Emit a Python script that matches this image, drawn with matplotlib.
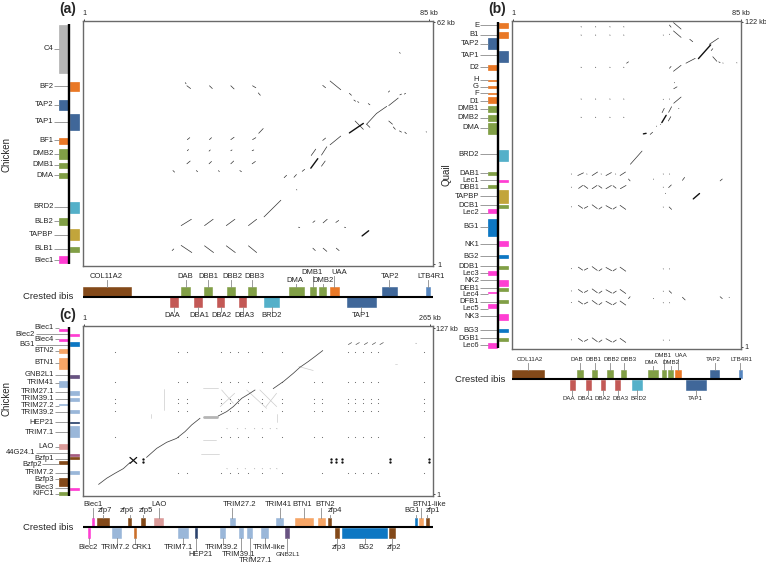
import matplotlib
matplotlib.use("Agg")
import matplotlib.pyplot as plt
from matplotlib.collections import LineCollection
from matplotlib.patches import Rectangle

plt.rcParams['font.family'] = ['Liberation Sans', 'DejaVu Sans']
W, H = 766, 567

COL = dict(gray='#b0b0b0', org='#e8711a', blu='#355f94', grn='#7a9a3c', teal='#4bacc6',
           mus='#bfa030', mag='#ff33d0', brn='#7c3f0c', red='#c0504d', bbl='#0070c0',
           lbl='#95b3d7', pch='#f6a05e', pnk='#d99694', pur='#604a7b', nav='#1f3864',
           mid='#4f81bd', dor='#c8671e', mpk='#a0527a')

# ---------- crested ibis MHC genes (kb), shared by panels a and b ----------
mhc_names = ['COL11A2', 'DAB', 'DBB1', 'DBB2', 'DBB3', 'DMA', 'DMB1', 'DMB2', 'UAA', 'TAP2', 'LTB4R1',
             'DAA', 'DBA1', 'DBA2', 'DBA3', 'BRD2', 'TAP1']
mhc_start = [0.8, 24.6, 30.1, 35.8, 41.0, 50.9, 56.0, 58.3, 60.9, 73.6, 84.3, 21.9, 27.8, 33.3, 38.7, 44.9, 64.9]
mhc_end = [12.3, 26.8, 32.1, 37.8, 42.8, 54.5, 57.4, 59.9, 63.0, 77.1, 85.3, 23.8, 29.7, 35.1, 40.5, 48.5, 72.2]
mhc_strand = [1] * 11 + [-1] * 6
mhc_color = ['brn', 'grn', 'grn', 'grn', 'grn', 'grn', 'grn', 'grn', 'org', 'blu', 'mid',
             'red', 'red', 'red', 'red', 'teal', 'blu']
mhc_tier = [0, 0, 0, 0, 0, 2, 1, 2, 1, 0, 0, 3, 3, 3, 3, 3, 3]
a_mhc_labelx = [6.3, 25.5, 31.3, 37.1, 42.5, 52.2, 56.4, 59.2, 63.2, 75.5, 85.5, 22.5, 29.0, 34.5, 40.0, 46.7, 68.5]
b_mhc_labelx = [7.3, 24.5, 30.8, 37.4, 43.8, 52.2, 56.5, 59.2, 63.0, 75.0, 85.3, 21.7, 27.7, 34.1, 40.7, 47.4, 68.2]

# ---------- panel a: chicken genes (kb) ----------
a_names = ['C4', 'BF2', 'TAP2', 'TAP1', 'BF1', 'DMB2', 'DMB1', 'DMA', 'BRD2', 'BLB2', 'TAPBP', 'BLB1', 'Blec1']
a_top = [61.3, 47.0, 42.5, 38.9, 32.9, 30.0, 26.5, 24.0, 16.7, 12.5, 9.9, 5.4, 3.1]
a_bot = [49.2, 44.8, 39.8, 34.9, 31.3, 27.6, 25.3, 22.7, 13.9, 10.8, 7.1, 4.0, 1.3]
a_side = [-1, 1, -1, 1, -1, -1, -1, -1, 1, -1, 1, 1, -1]
a_color = ['gray', 'org', 'blu', 'blu', 'org', 'grn', 'grn', 'grn', 'teal', 'grn', 'mus', 'grn', 'mag']
a_label = [55.4, 45.9, 41.2, 36.9, 32.2, 28.9, 26.1, 23.4, 15.5, 11.8, 8.4, 4.8, 2.0]

a_hits = [(77.8,54.4,78.0,54.2),(25.6,46.8,25.8,46.5),(26.0,46.0,26.9,45.3),(31.5,46.0,32.2,45.3),
 (36.7,46.0,37.5,45.2),(42.0,46.0,42.8,45.5),(43.4,44.2,43.9,43.6),(59.1,46.1,59.8,45.5),(60.9,47.2,63.5,45.0),
 (65.6,44.1,66.1,43.6),(66.7,42.4,67.1,42.1),(67.6,42.0,67.9,41.8),(70.2,41.5,70.6,41.2),(75.2,41.0,77.5,42.9),
 (75.1,44.4,75.4,44.7),(77.9,43.7,78.3,43.9),(79.0,43.9,79.3,44.1),(69.8,36.3,72.2,39.0),(72.2,39.0,74.7,40.8),
 (67.0,37.1,69.0,35.0),(69.8,36.3,70.6,35.5),(75.2,37.1,76.1,36.3),(76.3,35.6,76.8,35.0),(77.8,34.6,78.3,34.3),
 (79.1,34.3,79.5,33.9),(84.3,34.4,84.4,34.3),(43.5,34.0,44.6,35.2),(26.1,32.4,26.7,32.9),(31.5,32.4,32.0,32.9),
 (36.7,32.4,37.5,33.0),(42.0,32.4,42.8,32.9),(59.1,32.2,59.8,32.8),(60.9,31.1,63.5,33.3),(26.1,29.6,26.4,29.9),
 (31.4,29.5,31.7,29.8),(36.7,29.6,37.0,29.8),(41.9,29.6,42.3,29.8),(56.3,28.4,57.4,30.0),(58.8,28.5,60.1,30.6),
 (26.0,26.3,26.8,27.0),(31.4,26.3,32.0,26.9),(36.7,26.3,37.4,27.0),(41.9,26.3,42.7,26.9),(58.8,25.7,59.7,27.0),
 (22.6,24.6,23.0,24.2),(28.3,24.6,28.6,24.3),(33.7,24.6,33.9,24.3),(38.9,24.6,39.3,24.3),(49.7,22.8,50.3,23.4),
 (52.1,22.9,52.7,23.6),(54.1,24.4,54.7,24.9),(52.7,19.8,52.8,19.7),(44.8,12.9,48.9,17.1),(24.6,10.7,27.1,12.3),
 (30.3,10.7,32.4,12.3),(35.6,10.7,37.7,12.3),(41.0,10.7,43.0,12.3),(53.2,10.3,53.5,10.2),(56.7,11.5,57.2,11.9),
 (59.2,11.4,60.2,12.3),(62.3,11.5,63.0,12.0),(64.4,10.3,64.7,10.2),(22.4,4.4,22.8,4.8),(24.6,5.7,27.2,3.9),
 (30.3,5.6,32.5,3.9),(35.6,5.6,37.8,3.9),(41.0,5.6,43.0,3.9),(56.7,5.0,57.3,4.4),(59.2,5.0,60.1,4.2),(62.4,5.0,63.1,4.4)]
a_thick = [(65.6,34.1,69.0,36.5),(56.2,25.2,57.9,27.6),(68.7,8.1,70.3,9.4)]

# ---------- panel b: quail genes (kb) ----------
b_names = ['E','B1','TAP2','TAP1','D2','H','G','F','D1','DMB1','DMB2','DMA','BRD2','DAB1','Lec1','DBB1','TAPBP','DCB1',
           'Lec2','BG1','NK1','BG2','DDB1','Lec3','NK2','DEB1','Lec4','DFB1','Lec5','NK3','BG3','DGB1','Lec6']
b_top = [121.6,118.1,115.8,111.0,105.8,100.3,98.0,95.4,93.9,90.5,87.1,84.1,74.3,66.1,62.9,61.3,59.3,53.7,52.1,48.4,40.3,
         35.1,31.1,29.3,25.7,23.0,21.3,18.4,16.8,13.2,7.6,4.2,2.2]
b_bot = [119.6,115.9,111.9,107.0,103.9,99.9,97.4,95.2,91.8,88.5,85.1,80.3,70.1,64.8,62.3,59.9,54.3,52.5,50.6,42.2,38.5,
         34.0,29.9,27.7,23.6,21.6,20.9,17.1,15.3,10.9,6.3,3.0,0.6]
b_side = [1,1,-1,1,-1,-1,-1,-1,-1,-1,-1,-1,1,-1,1,-1,1,1,-1,-1,1,1,1,-1,1,1,-1,1,-1,1,1,1,-1]
b_color = ['org','org','blu','blu','org','org','org','org','org','grn','grn','grn','teal','grn','mag','grn','mus','grn',
           'mag','bbl','mag','bbl','grn','mag','mag','grn','mag','grn','mag','mag','bbl','grn','mag']
b_label = [120.7,117.0,113.7,109.4,105.0,100.3,97.8,95.3,92.4,89.5,86.2,82.4,72.6,65.6,62.9,60.2,57.0,53.6,50.9,45.7,39.2,
           34.6,31.0,28.4,25.8,22.8,20.5,17.7,15.1,12.3,7.1,4.1,1.5]

b_dot_cols = [26.1, 31.4, 36.7, 41.8]
b_dot_rows = [120.1, 117.0, 105.0, 93.2, 86.4]
b_hits = [(42.9,106.5,43.6,107.0),(60.2,121.6,63.0,119.2),(60.2,118.5,63.0,116.1),(58.7,120.7,59.3,119.9),
 (56.4,117.0,56.5,116.9),(58.7,117.3,58.8,117.2),(66.2,115.4,67.3,114.5),(73.4,113.5,76.8,115.8),(74.1,111.2,74.7,111.9),
 (74.7,108.9,76.2,107.2),(76.9,107.0,77.4,106.7),(78.4,106.6,78.5,106.5),(83.5,106.7,83.6,106.6),(64.8,106.5,68.2,108.3),
 (58.7,104.6,59.3,105.3),(60.2,103.5,63.0,105.7),(60.5,99.3,60.6,99.2),(60.3,97.0,61.5,97.7),(56.4,93.1,56.5,93.0),
 (58.7,93.2,58.8,93.1),(60.3,91.6,63.0,93.9),(56.0,88.1,56.8,89.7),(58.4,88.2,59.5,90.3),(62.1,89.7,62.2,89.6),
 (58.3,85.0,59.2,86.6),(53.9,83.1,54.0,83.0),(55.4,83.8,55.5,83.7),(51.6,80.0,52.5,80.8),(44.3,68.9,48.6,73.8),
 (22.5,65.3,22.6,65.2),(24.9,64.7,27.0,65.7),(28.2,65.3,28.3,65.2),(30.2,64.7,32.2,66.0),(33.5,65.3,33.6,65.2),
 (35.3,64.7,37.3,65.8),(38.8,65.3,38.9,65.2),(40.5,64.7,42.5,66.0),(43.6,63.4,44.2,62.7),(22.5,60.4,22.6,60.3),
 (25.2,59.9,26.7,61.0),(27.1,61.0,28.6,59.9),(30.2,59.8,32.0,61.0),(32.6,60.9,33.8,60.0),(35.3,59.8,37.3,61.0),
 (37.9,60.9,39.0,60.0),(40.6,59.8,42.7,61.0),(56.4,65.3,56.5,65.2),(58.7,65.3,58.8,65.2),(56.4,60.4,56.5,60.3),
 (58.4,60.2,59.4,61.2),(52.8,63.4,52.9,63.3),(63.5,62.9,64.3,64.0),(77.4,62.7,78.2,63.4),(57.2,58.1,57.3,58.0),
 (56.4,53.0,56.5,52.9),(58.6,53.0,59.5,52.1),(56.4,30.0,56.5,29.9),(58.7,30.0,58.8,29.9),(56.4,21.7,56.5,21.6),
 (58.6,21.8,59.5,20.9),(56.4,17.4,56.5,17.3),(58.7,17.4,58.8,17.3),(56.4,3.5,56.5,3.4),(58.7,3.5,58.8,3.4),
 (43.6,18.9,44.2,19.6),(52.8,19.0,52.9,18.9),(63.5,19.4,64.5,18.4),(77.4,19.6,78.2,18.9),(80.7,19.4,80.8,19.3)]
b_thick = [(69.4,108.2,73.9,113.3),(55.9,84.4,57.5,87.1),(49.1,80.2,50.1,80.4),(67.5,56.0,69.8,58.0)]
b_motif_rows = [53.0, 30.0, 21.7, 17.4, 3.5]
b_motif = [(22.5,0.1,22.6,0.0),(25.1,0.6,26.7,-0.5),(27.3,-0.5,28.6,0.2),(30.2,0.8,32.1,-0.6),(32.7,-0.8,33.8,0.0),
           (35.3,0.5,37.4,-0.7),(37.9,-0.8,39.1,0.0),(40.5,0.6,42.6,-0.9)]

# ---------- panel c: chicken genes (kb) ----------
c_names = ['Blec1','Blec2','Blec4','BG1','BTN2','BTN1','GNB2L1','TRIM41','TRIM27.1','TRIM39.1','TRIM27.2','TRIM39.2',
           'HEP21','TRIM7.1','LAO','44G24.1','Bzfp1','Bzfp2','TRIM7.2','Bzfp3','Blec3','KIFC1']
c_top = [126.8,122.8,119.0,116.4,111.4,104.5,91.9,86.8,79.2,74.2,69.6,65.1,55.9,53.2,39.2,31.4,29.1,26.3,18.5,13.4,5.8,3.0]
c_bot = [124.8,121.3,117.7,113.7,108.3,95.9,89.4,82.5,76.7,71.9,68.8,62.5,54.9,44.5,35.2,30.4,28.1,23.8,16.2,7.3,4.5,0.5]
c_side = [-1,1,-1,1,-1,-1,1,-1,1,1,-1,1,1,1,-1,1,1,-1,1,-1,1,-1]
c_color = ['mag','mag','mag','bbl','pch','pch','pur','lbl','lbl','lbl','lbl','lbl','nav','lbl','pnk','mpk','brn','brn',
           'lbl','brn','mag','grn']
c_label = [127.3,122.5,118.7,114.4,110.1,101.0,91.6,85.8,78.7,73.7,68.3,63.5,55.9,48.3,37.2,32.6,28.1,24.0,17.5,12.4,6.1,1.3]
c_offset = ['Blec2', 'BG1', '44G24.1']
c_offset2 = ['Bzfp2']

c_diag = [[(12.2,8.6),(18.3,13.2),(24.7,17.0),(31.0,20.5),(36.1,25.1)],
          [(48.8,29.1),(56.5,35.9),(64.1,40.5),(71.7,43.5),(78.1,48.6),(83.2,53.7),(89.5,58.7)],
          [(103.5,60.5),(109.9,63.8),(115.0,67.6),(121.4,73.9),(126.4,76.9),(131.5,80.2)],
          [(145.5,81.3),(153.2,86.6),(160.8,92.9),(165.9,97.5),(172.2,101.8),(177.3,105.6),(183.2,110.1)]]
c_cross = [(36.1,29.0,41.2,24.5),(36.1,24.5,41.2,29.0)]
c_cols = [24.7,72.5,79.9,105.3,112.5,118.8,126.4,136.6,152.4,176.6,182.7,202.3,207.9,213.7,219.8,225.7,260.5]
c_rows = [109.4,86.6,73.4,70.1,64.3,44.8,17.0]
c_big_cols = [46.0,189.8,193.4,198.2,234.8,264.4]
c_big_rows = [27.8,25.6]
c_top_hits = [(202.8,114.7,205.3,116.2),(208.6,114.7,211.2,116.2),(215.0,114.7,217.5,116.2),(221.1,114.7,223.6,116.2),
              (226.9,114.7,229.5,116.2),(254.4,115.7,254.6,115.6)]
c_faint = [(92.1,81.5,103.5,81.5),(92.0,42.3,102.0,42.3),(90.0,31.4,104.0,31.4),(238.4,100.2,240.2,100.2),
           (106.1,80.2,115.0,70.1),(125.2,80.2,140.4,66.3),(135.3,80.2,148.1,67.6),(105.0,67.6,116.0,77.7),
           (140.0,67.6,148.0,77.7),(165.0,98.0,176.0,95.0),(62.0,81.0,62.0,65.0),(52.0,62.0,52.0,59.0),(148.0,62.0,148.0,56.0)]
c_band = [(92.6,60.0,102.3,60.0)]
c_faint_cols = [110.0,118.0,124.0,131.0,137.0,143.0,148.0]
c_faint_rows = [51.1,20.7]

# ---------- panel c: crested ibis genes (kb) ----------
ci_names = ['Blec1','zfp7','zfp6','zfp5','LAO','TRIM27.2','TRIM41','BTN1','BTN2','zfp4','BG1','BTN1-like','zfp1',
            'Blec2','TRIM7.2','CRK1','TRIM7.1','HEP21','TRIM39.2','TRIM39.1','TRIM27.1','TRIM-like','GNB2L1','zfp3','BG2','zfp2']
ci_start = [7.1,10.7,34.6,44.8,54.7,112.7,147.6,161.8,179.6,187.5,253.9,256.7,261.8,
            4.3,22.4,39.2,72.8,85.7,104.8,119.3,125.7,136.1,154.7,192.6,197.9,234.1]
ci_end = [8.4,20.1,36.9,47.3,61.3,116.0,152.9,176.1,185.0,189.8,255.5,259.8,264.1,
          5.8,29.5,40.7,80.6,87.0,108.9,122.4,129.2,141.5,157.5,195.9,232.6,238.4]
ci_strand = [1]*13 + [-1]*13
ci_color = ['mag','brn','brn','brn','pnk','lbl','lbl','pch','pch','brn','bbl','pch','brn',
            'mag','lbl','dor','lbl','nav','lbl','lbl','lbl','lbl','pur','brn','bbl','brn']
ci_tier = [0,1,1,1,0,0,0,0,0,1,1,0,1, 2,2,2,2,3,2,3,4,2,3,2,2,2]
ci_labelx = [7.9,17.3,33.8,48.1,58.5,120.1,149.6,167.2,185.2,192.9,251.6,264.4,267.7,
             3.8,24.7,45.5,73.0,90.1,106.1,118.6,132.3,142.0,157.0,195.7,216.0,237.4]

LABEL = 5.5
LEAD = '#8a8a8a'
INK = '#262626'

fig = plt.figure(figsize=(W / 100, H / 100), dpi=100)

def px_axes(l, t, r, b):
    return fig.add_axes([l / W, 1 - b / H, (r - l) / W, (b - t) / H])

def ftext(x, y, s, **kw):
    kw.setdefault('ha', 'center')
    kw.setdefault('va', 'center')
    kw.setdefault('color', INK)
    fig.text(x / W, 1 - y / H, s, **kw)

def dot_axes(box, xlim, ylim, xmax, ymax):
    ax = px_axes(*box)
    ax.set_xlim(*xlim)
    ax.set_ylim(*ylim)
    for s in ax.spines.values():
        s.set_color('#6a6a6a')
        s.set_linewidth(1.0)
    ax.xaxis.tick_top()
    ax.yaxis.tick_right()
    ax.set_xticks([1, xmax], ['1', f'{xmax} kb'])
    ax.set_yticks([1, ymax], ['1', f'{ymax} kb'])
    ax.tick_params(length=1.6, width=0.6, pad=1, labelsize=5.2, colors=INK)
    return ax

def hits(ax, segs, lw=0.5, color='#333333'):
    ax.add_collection(LineCollection([[(s[0], s[1]), (s[2], s[3])] for s in segs],
                                     colors=color, linewidths=lw, capstyle='round'))

def side_track(box, ylim, spine, span, names, top, bot, side, color, label, lx, offsets=None):
    ax = px_axes(*box)
    ax.set_xlim(box[0], box[2])
    ax.set_ylim(*ylim)
    ax.axis('off')
    for n, t, b, s, c, y in zip(names, top, bot, side, color, label):
        x0 = spine + 1 if s > 0 else spine - 10
        ax.add_patch(Rectangle((x0, b), 9.2, t - b, fc=COL[c], ec=COL[c], lw=0.5, alpha=0.95,
                               clip_on=False))
        tx = (offsets or {}).get(n, lx)
        ax.text(tx, y, n, ha='right', va='center', fontsize=LABEL, color=INK)
        end = spine if s > 0 else x0
        ax.plot([tx + 0.7, end], [y, y], color=LEAD, lw=0.6, solid_capstyle='butt', zorder=1)
    ax.plot([spine, spine], span, color='black', lw=1.7, solid_capstyle='butt', zorder=3)
    return ax

def ibis_track(box, xlim, base, up, down, tiers, names, start, end, strand, color, tier, labelx, fs=LABEL, small=()):
    ax = px_axes(*box)
    ax.set_xlim(*xlim)
    ax.set_ylim(box[3], box[1])
    ax.axis('off')
    for n, s, e, d, c, t, lx in zip(names, start, end, strand, color, tier, labelx):
        y0, y1 = (base - up[0], base - up[1]) if d > 0 else (base + down[0], base + down[1])
        ax.add_patch(Rectangle((s, y0), e - s, y1 - y0, fc=COL[c], ec=COL[c], lw=0.4, alpha=0.95, clip_on=False))
        ty = tiers[t]
        mid = (s + e) / 2
        ax.plot([mid, mid], [y1, ty + (3.5 if d > 0 else -3.5)], color=LEAD, lw=0.6, zorder=1, clip_on=False)
        ax.text(lx, ty, n, ha='center', va='center', fontsize=4.6 if n in small else fs, color=INK)
    ax.plot(xlim, [base, base], color='black', lw=1.5, solid_capstyle='butt', clip_on=False)
    return ax

# ---------- panel a ----------
a_xlim, a_ylim = (0.68, 86.05), (0.58, 62.35)
ax = dot_axes((83, 21, 433.3, 265.7), a_xlim, a_ylim, 85, 62)
hits(ax, a_hits)
hits(ax, a_thick, lw=1.0, color='#111111')
side_track((0, 21, 83, 265.7), a_ylim, 69, (61.7, 1.0), a_names, a_top, a_bot, a_side, a_color, a_label, 53.5)
ibis_track((83, 266, 433.3, 322), a_xlim, 296.7, (0.7, 10), (0.7, 10), {0: 276.7, 1: 272.8, 2: 280.3, 3: 316},
           mhc_names, mhc_start, mhc_end, mhc_strand, mhc_color, mhc_tier, a_mhc_labelx)

# ---------- panel b ----------
b_xlim, b_ylim = (0.75, 85.1), (0.26, 122.2)
ax = dot_axes((512.3, 21, 741, 348.7), b_xlim, b_ylim, 85, 122)
hits(ax, [(x, y, x + 0.12, y - 0.12) for y in b_dot_rows for x in b_dot_cols], lw=0.6, color='#555555')
hits(ax, b_hits)
hits(ax, b_thick, lw=1.0, color='#111111')
hits(ax, [(m[0], r + m[1], m[2], r + m[3]) for r in b_motif_rows for m in b_motif])
side_track((434, 21, 512.3, 348.7), b_ylim, 498, (122.0, 0.5), b_names, b_top, b_bot, b_side, b_color, b_label, 479)
ibis_track((512.3, 349, 741, 405), b_xlim, 379, (0.7, 9.5), (0.7, 10.5), {0: 359.3, 1: 355.3, 2: 362.7, 3: 398},
           mhc_names, mhc_start, mhc_end, mhc_strand, mhc_color, mhc_tier, b_mhc_labelx, fs=4.4)

# ---------- panel c ----------
c_xlim, c_ylim = (0.0, 267.2), (-0.27, 128.8)
ax = dot_axes((82.7, 326, 432.7, 496), c_xlim, c_ylim, 265, 127)
hits(ax, c_faint, lw=0.5, color='#cccccc')
hits(ax, c_band, lw=2.0, color='#b5b5b5')
hits(ax, [(x, y, x + 0.4, y - 0.4) for y in c_faint_rows for x in c_faint_cols], lw=0.5, color='#aaaaaa')
for y in c_rows:
    for x in c_cols:
        if (y == 109.4 and x in (176.6, 182.7)) or (y == 17.0 and x in (24.7, 176.6)):
            continue
        ax.plot([x], [y], ls='none', marker='o', ms=0.8, mec='none', mfc='#666666')
for run in c_diag:
    ax.plot([p[0] for p in run], [p[1] for p in run], color='#444444', lw=0.55)
hits(ax, c_cross, lw=0.9, color='#111111')
hits(ax, c_top_hits, lw=0.5, color='#555555')
for y in c_big_rows:
    for x in c_big_cols:
        ax.plot([x], [y], ls='none', marker='o', ms=1.7, mec='none', mfc='#111111')
offs = {n: 35 for n in c_offset}
offs.update({n: 41.7 for n in c_offset2})
side_track((0, 326, 82.7, 496), c_ylim, 69, (127.8, -0.3), c_names, c_top, c_bot, c_side, c_color, c_label, 54, offs)
ibis_track((82.7, 497, 432.7, 567), c_xlim, 527.3, (0.7, 9.6), (0.7, 10.7),
           {0: 504.3, 1: 511, 2: 547.7, 3: 554.7, 4: 561},
           ci_names, ci_start, ci_end, ci_strand, ci_color, ci_tier, ci_labelx, small=('GNB2L1',))

# ---------- panel text ----------
ftext(68, 9, '(a)', fontsize=10, fontweight='bold')
ftext(497.5, 9, '(b)', fontsize=10, fontweight='bold')
ftext(68, 314.5, '(c)', fontsize=10, fontweight='bold')
ftext(7, 155, 'Chicken', fontsize=7, rotation=90)
ftext(7, 399, 'Chicken', fontsize=7, rotation=90)
ftext(446, 175, 'Quail', fontsize=7, rotation=90)
ftext(48.5, 296.5, 'Crested ibis', fontsize=6.8)
ftext(48.5, 527.5, 'Crested ibis', fontsize=6.8)
ftext(480, 379, 'Crested ibis', fontsize=6.8)

fig.savefig('out.png', dpi=100)
